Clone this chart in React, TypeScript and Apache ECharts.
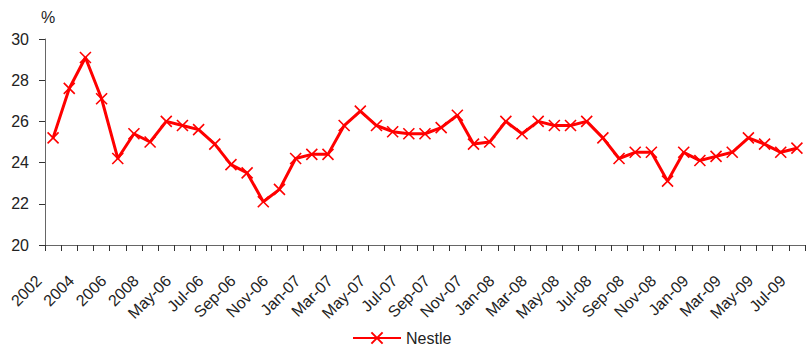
import React, { useEffect, useRef } from "react";
import * as echarts from "echarts";

// Category axis: annual points followed by monthly points
const categories: string[] = [
  "2002", "2003", "2004", "2005", "2006", "2007", "2008",
  "Apr-06", "May-06", "Jun-06", "Jul-06", "Aug-06", "Sep-06", "Oct-06", "Nov-06", "Dec-06",
  "Jan-07", "Feb-07", "Mar-07", "Apr-07", "May-07", "Jun-07", "Jul-07", "Aug-07", "Sep-07", "Oct-07", "Nov-07", "Dec-07",
  "Jan-08", "Feb-08", "Mar-08", "Apr-08", "May-08", "Jun-08", "Jul-08", "Aug-08", "Sep-08", "Oct-08", "Nov-08", "Dec-08",
  "Jan-09", "Feb-09", "Mar-09", "Apr-09", "May-09", "Jun-09", "Jul-09",
];

// Nestle, in %
const nestleValues: number[] = [
  25.2, 27.6, 29.1, 27.1, 24.2, 25.4, 25.0,
  26.0, 25.8, 25.6, 24.9, 23.9, 23.5, 22.1, 22.7,
  24.2, 24.4, 24.4, 25.8, 26.5, 25.8, 25.5, 25.4, 25.4, 25.7, 26.3, 24.9,
  25.0, 26.0, 25.4, 26.0, 25.8, 25.8, 26.0, 25.2, 24.2, 24.5, 24.5, 23.1,
  24.5, 24.1, 24.3, 24.5, 25.2, 24.9, 24.5, 24.7,
];

const seriesName = "Nestle";
const unitLabel = "%";
const yMin = 20;
const yMax = 30;
const yStep = 2;

const FONT = "'Liberation Sans', Arial, sans-serif";
const TEXT = "#222";
const AXIS = "#666";
const RED = "#ff0000";
const CROSS = "path://M0,0L10,10M10,0L0,10";

export default function App() {
  const ref = useRef<HTMLDivElement>(null);

  useEffect(() => {
    if (!ref.current) return;
    const chart = echarts.init(ref.current, undefined, { renderer: "svg" });
    chart.setOption({
      animation: false,
      backgroundColor: "#fff",
      textStyle: { fontFamily: FONT },
      grid: { left: 45, right: 4, top: 39, bottom: 105, containLabel: false },
      legend: {
        left: 347,
        top: 325,
        itemWidth: 48,
        itemHeight: 14,
        itemGap: 5,
        textStyle: { fontFamily: FONT, fontSize: 16, color: TEXT },
        data: [seriesName],
      },
      xAxis: {
        type: "category",
        data: categories,
        boundaryGap: true,
        axisLine: { lineStyle: { color: AXIS, width: 1 } },
        axisTick: { show: true, interval: 0, length: 6, lineStyle: { color: "#333" } },
        axisLabel: {
          interval: 1,
          rotate: 45,
          margin: 19,
          padding: [0, 20, 0, 0],
          fontFamily: FONT,
          fontSize: 16,
          color: TEXT,
        },
        splitLine: { show: false },
      },
      yAxis: {
        type: "value",
        min: yMin,
        max: yMax,
        interval: yStep,
        name: unitLabel,
        nameLocation: "end",
        nameGap: 14,
        nameTextStyle: { fontFamily: FONT, fontSize: 16, color: TEXT, align: "center", padding: [0, 0, 0, 6] },
        axisLine: { show: true, lineStyle: { color: AXIS, width: 1 } },
        axisTick: { show: true, length: 6, lineStyle: { color: "#333" } },
        axisLabel: { margin: 16, fontFamily: FONT, fontSize: 16, color: TEXT },
        splitLine: { show: false },
      },
      series: [
        {
          name: seriesName,
          type: "line",
          data: nestleValues,
          symbol: CROSS,
          symbolSize: 11,
          showAllSymbol: true,
          lineStyle: { color: RED, width: 3 },
          itemStyle: { color: RED, borderColor: RED, borderWidth: 1.6 },
        },
      ],
    });
    return () => chart.dispose();
  }, []);

  return (
    <div
      ref={ref}
      style={{ position: "fixed", left: 0, top: 0, width: 809, height: 350, background: "#fff" }}
    />
  );
}
